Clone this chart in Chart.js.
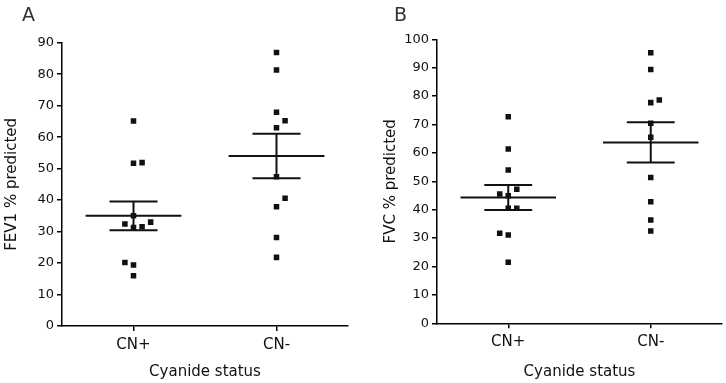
<!DOCTYPE html>
<html lang="en">
<head>
<meta charset="UTF-8">
<title>FEV1 and FVC by cyanide status</title>
<script src="https://cdn.jsdelivr.net/npm/chart.js"></script>
<style>
  body { margin: 0; background: #fff; font-family: "DejaVu Sans", sans-serif; }
  .panel { position: absolute; top: 0; width: 363px; height: 383px; }
  .letter { position: absolute; font-size: 19px; color: #333; line-height: 1; }
</style>
</head>
<body>
<div class="panel" style="left:0"><canvas id="chartA" width="363" height="383"></canvas></div>
<div class="panel" style="left:363px"><canvas id="chartB" width="363" height="383"></canvas></div>
<div class="letter" style="left:22px;top:5px">A</div>
<div class="letter" style="left:394px;top:5px">B</div>
<script>
const groups = ['CN+', 'CN-'];
const fevTicks = [0, 10, 20, 30, 40, 50, 60, 70, 80, 90];
const fvcTicks = [0, 10, 20, 30, 40, 50, 60, 70, 80, 90, 100];

// panel A - FEV1 % predicted
const fevCnPlus = [65.1, 51.7, 51.9, 35.0, 32.4, 33.0, 31.3, 31.5, 20.2, 19.4, 16.0];
const fevCnPlusSlot = [0, 0, 1, 0, -1, 2, 0, 1, -1, 0, 0];
const fevCnMinus = [86.9, 81.3, 67.9, 65.2, 63.0, 47.4, 40.6, 37.9, 28.1, 21.8];
const fevCnMinusSlot = [0, 0, 0, 1, 0, 0, 1, 0, 0, 0];
const fevMean = [35.0, 54.0];
const fevSem = [4.55, 7.1];

// panel B - FVC % predicted
const fvcCnPlus = [72.7, 61.4, 54.0, 45.5, 47.2, 44.9, 40.5, 40.5, 31.7, 31.1, 21.5];
const fvcCnPlusSlot = [0, 0, 0, -1, 1, 0, 0, 1, -1, 0, 0];
const fvcCnMinus = [95.3, 89.4, 77.7, 78.6, 70.4, 65.5, 51.3, 42.8, 36.4, 32.5];
const fvcCnMinusSlot = [0, 0, 0, 1, 0, 0, 0, 0, 0, 0];
const fvcMean = [44.3, 63.7];
const fvcSem = [4.4, 7.05];

Chart.defaults.font.family = '"DejaVu Sans", sans-serif';
Chart.defaults.color = '#111';

const JITTER = 0.06;      // side shift of overlapping dots
const MEAN_HALF = 0.335;  // half width of mean bar
const SEM_HALF = 0.168;   // half width of sem caps

function dots(values, slots, pos) {
    return {
        data: values.map((v, i) => ({ x: pos + slots[i] * JITTER, y: v })),
        pointStyle: 'rect',
        pointRadius: 3.9,
        backgroundColor: '#111',
        borderColor: '#111',
        borderWidth: 0,
        showLine: false
    };
}

function seg(x1, y1, x2, y2) {
    return {
        data: [{ x: x1, y: y1 }, { x: x2, y: y2 }],
        showLine: true,
        pointRadius: 0,
        borderColor: '#111',
        borderWidth: 2
    };
}

function makeChart(id, p) {
    const datasets = [
        dots(p.plus, p.plusSlot, 1),
        dots(p.minus, p.minusSlot, 2)
    ];
    p.mean.forEach((m, i) => {
        const c = i + 1, s = p.sem[i];
        datasets.push(seg(c - MEAN_HALF, m, c + MEAN_HALF, m));
        datasets.push(seg(c - SEM_HALF, m + s, c + SEM_HALF, m + s));
        datasets.push(seg(c - SEM_HALF, m - s, c + SEM_HALF, m - s));
        datasets.push(seg(c, m - s, c, m + s));
    });

    new Chart(document.getElementById(id), {
        type: 'scatter',
        data: { datasets },
        options: {
            responsive: false,
            animation: false,
            layout: { padding: { top: p.top, right: p.right, left: 0, bottom: 0 } },
            plugins: { legend: { display: false }, tooltip: { enabled: false } },
            scales: {
                x: {
                    type: 'linear', min: 0.5, max: 2.5,
                    afterBuildTicks: s => { s.ticks = groups.map((g, i) => ({ value: i + 1 })); },
                    afterFit: s => { s.height = 383 - p.bottom; },
                    ticks: { callback: v => groups[v - 1], font: { size: 15 }, padding: 5, maxRotation: 0, autoSkip: false },
                    grid: { drawOnChartArea: false, tickLength: 5, color: '#000', lineWidth: 1.5 },
                    border: { color: '#000', width: 1.5 },
                    title: { display: true, text: 'Cyanide status', font: { size: 15 }, padding: { top: 0, bottom: 2 } }
                },
                y: {
                    min: 0, max: p.ticks[p.ticks.length - 1],
                    afterBuildTicks: s => { s.ticks = p.ticks.map(v => ({ value: v })); },
                    afterFit: s => { s.width = p.left; },
                    ticks: { font: { size: 13 }, padding: 3 },
                    grid: { drawOnChartArea: false, tickLength: 5, color: '#000', lineWidth: 1.5 },
                    border: { color: '#000', width: 1.5 },
                    title: { display: true, text: p.yTitle, font: { size: 15 }, padding: { top: p.titlePad, bottom: 0 } }
                }
            }
        }
    });
}

makeChart('chartA', {
    plus: fevCnPlus, plusSlot: fevCnPlusSlot, minus: fevCnMinus, minusSlot: fevCnMinusSlot,
    mean: fevMean, sem: fevSem, ticks: fevTicks, yTitle: 'FEV1 % predicted',
    left: 62, top: 42.7, right: 15, bottom: 326, titlePad: 3
});

makeChart('chartB', {
    plus: fvcCnPlus, plusSlot: fvcCnPlusSlot, minus: fvcCnMinus, minusSlot: fvcCnMinusSlot,
    mean: fvcMean, sem: fvcSem, ticks: fvcTicks, yTitle: 'FVC % predicted',
    left: 74, top: 39.3, right: 2.5, bottom: 323.3, titlePad: 19
});
</script>
</body>
</html>
